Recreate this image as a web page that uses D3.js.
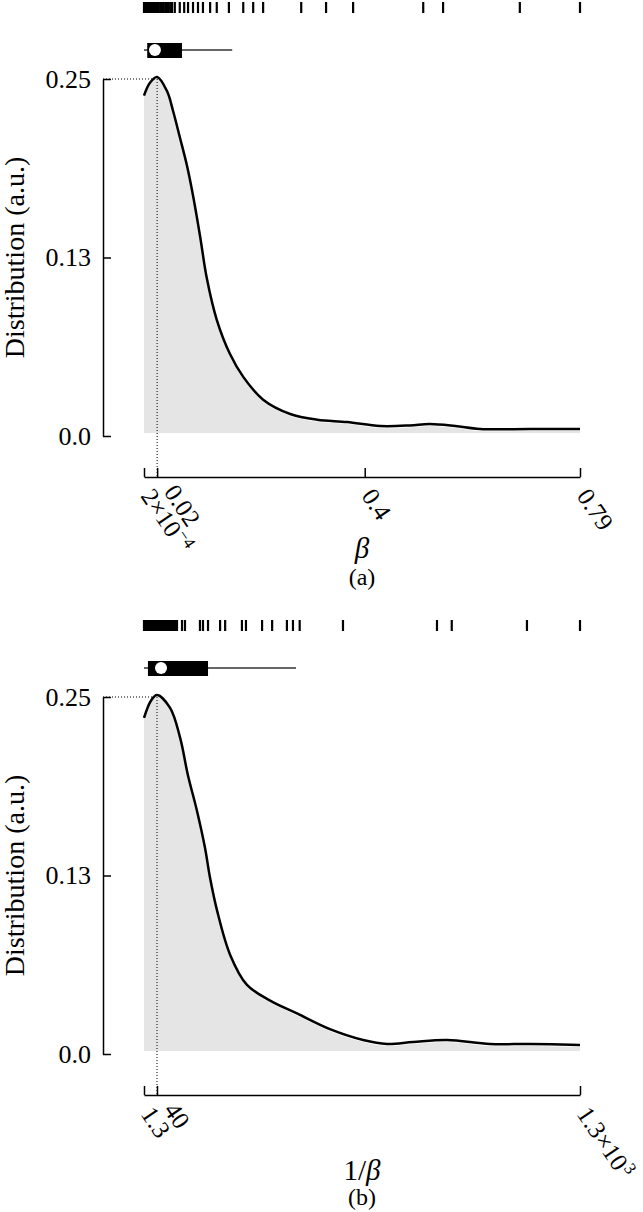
<!DOCTYPE html>
<html>
<head>
<meta charset="utf-8">
<script src="https://cdn.jsdelivr.net/npm/d3@7"></script>
<style>
  body { margin: 0; background: #fff; }
  svg { display: block; font-family: "Liberation Serif", "DejaVu Serif", serif; }
</style>
</head>
<body>
<div id="chart"></div>
<script>
// ---- data ----
// panel (a): beta
let rugBeta = [0.0002, 0.002, 0.004, 0.006, 0.008, 0.01, 0.012, 0.014, 0.016, 0.018, 0.02, 0.022,
    0.024, 0.027, 0.03, 0.033, 0.036, 0.039, 0.042, 0.045, 0.048, 0.051, 0.056, 0.065, 0.073,
    0.08, 0.089, 0.098, 0.107, 0.12, 0.132, 0.154, 0.18, 0.198, 0.216, 0.285, 0.33, 0.379,
    0.506, 0.542, 0.681, 0.79];
let boxBeta = [0.0002, 0.006, 0.02, 0.069, 0.16];   // min, q1, median, q3, whisker
let densBetaX = [0.0002, 0.011, 0.024, 0.042, 0.053, 0.065, 0.078, 0.089, 0.102, 0.114, 0.132,
    0.156, 0.18, 0.216, 0.265, 0.314, 0.368, 0.428, 0.482, 0.518, 0.564, 0.609, 0.7, 0.79];
let densBetaY = [0.237, 0.246, 0.25, 0.24, 0.226, 0.208, 0.188, 0.167, 0.138, 0.109, 0.08,
    0.056, 0.04, 0.024, 0.014, 0.01, 0.0084, 0.0056, 0.006, 0.007, 0.0056, 0.0035, 0.0035, 0.0035];
let modeBeta = 0.024;
let xTicksBeta = [0.0002, 0.024, 0.4, 0.79];
let xLabelsBeta = [["2×10", "−4"], ["0.02"], ["0.4"], ["0.79"]];

// panel (b): 1/beta
let rugInv = [1.3, 4.3, 10.2, 16.2, 22.1, 28.1, 34.1, 40, 46, 52, 57.9, 63.9, 69.8, 75.8, 81.7,
    87.7, 93.6, 99.6, 114.5, 123.4, 168, 177, 192, 228, 243, 293, 305, 353, 383, 427, 445, 465,
    594, 874, 918, 1142, 1300];
let boxInv = [1.3, 13, 52, 192, 454];
let densInvX = [1.3, 22, 40, 79, 109, 132, 159, 183, 198, 219, 258, 308, 377, 457, 555, 654,
    725, 803, 904, 1032, 1151, 1300];
let densInvY = [0.234, 0.246, 0.25, 0.241, 0.22, 0.194, 0.169, 0.143, 0.122, 0.099, 0.068,
    0.047, 0.036, 0.027, 0.016, 0.0084, 0.0056, 0.007, 0.0084, 0.0056, 0.0056, 0.0049];
let modeInv = 40;
let xTicksInv = [1.3, 40, 1300];
let xLabelsInv = [["1.3"], ["40"], ["1.3×10", "3"]];

let yTicks = [0, 0.125, 0.25];
let yLabels = ["0.0", "0.13", "0.25"];

// ---- layout ----
let width = 643, height = 1212;
let plotLeft = 144, plotRight = 580;

let svg = d3.select("#chart").append("svg")
    .attr("width", width)
    .attr("height", height);

function drawPanel(top, p) {
    let g = svg.append("g").attr("transform", "translate(0," + top + ")");

    let x = d3.scaleLinear().domain([p.xTicks[0], p.xTicks[p.xTicks.length - 1]]).range([plotLeft, plotRight]);
    let y = d3.scaleLinear().domain([0, 0.25]).range([436, 79]);

    // rug
    g.append("g").selectAll("line")
        .data(p.rug)
        .join("line")
        .attr("x1", d => x(d)).attr("x2", d => x(d))
        .attr("y1", 2).attr("y2", 13)
        .attr("stroke", "#000")
        .attr("stroke-width", 2.2);

    // boxplot
    let b = p.box;
    g.append("line")
        .attr("x1", x(b[0])).attr("x2", x(b[4]))
        .attr("y1", 50).attr("y2", 50)
        .attr("stroke", "#333")
        .attr("stroke-width", 1.5);
    g.append("rect")
        .attr("x", x(b[1])).attr("width", x(b[3]) - x(b[1]))
        .attr("y", 43).attr("height", 15)
        .attr("fill", "#000");
    g.append("circle")
        .attr("cx", x(b[2])).attr("cy", 50)
        .attr("r", 6)
        .attr("fill", "#fff");

    // density
    let pts = p.densX.map((d, i) => [d, p.densY[i]]);
    let curve = d3.curveCatmullRom.alpha(0.5);
    g.append("path")
        .datum(pts)
        .attr("fill", "#e5e5e5")
        .attr("d", d3.area().x(d => x(d[0])).y0(y(0) - 3).y1(d => y(d[1])).curve(curve));
    g.append("path")
        .datum(pts)
        .attr("fill", "none")
        .attr("stroke", "#000")
        .attr("stroke-width", 2.5)
        .attr("d", d3.line().x(d => x(d[0])).y(d => y(d[1]) - 2).curve(curve));

    // mode guide lines
    let peak = d3.max(p.densY);
    g.append("line")
        .attr("x1", 103).attr("x2", x(p.mode))
        .attr("y1", y(peak)).attr("y2", y(peak))
        .attr("stroke", "#000").attr("stroke-width", 1)
        .attr("stroke-dasharray", "1,2");
    g.append("line")
        .attr("x1", x(p.mode)).attr("x2", x(p.mode))
        .attr("y1", y(peak)).attr("y2", 477)
        .attr("stroke", "#000").attr("stroke-width", 1)
        .attr("stroke-dasharray", "1,2");

    // y axis
    let yAxis = g.append("g")
        .attr("transform", "translate(103,0)")
        .call(d3.axisLeft(y).tickValues(yTicks).tickFormat((d, i) => yLabels[i])
            .tickSizeInner(-8).tickSizeOuter(0).tickPadding(12));
    yAxis.selectAll("path, line").attr("stroke", "#000").attr("stroke-width", 1.5);
    yAxis.selectAll("text")
        .attr("font-family", "Liberation Serif")
        .attr("font-size", 26)
        .attr("fill", "#000");

    g.append("text")
        .attr("transform", "translate(24," + y(0.125) + ") rotate(-90)")
        .attr("text-anchor", "middle")
        .attr("font-size", 28)
        .text("Distribution (a.u.)");

    // x axis
    let xAxis = g.append("g")
        .attr("transform", "translate(0,477)")
        .call(d3.axisBottom(x).tickValues(p.xTicks).tickFormat("")
            .tickSizeInner(-9).tickSizeOuter(0));
    xAxis.selectAll("path, line").attr("stroke", "#000").attr("stroke-width", 1.5);

    let labels = g.append("g").selectAll("text")
        .data(p.xTicks)
        .join("text")
        .attr("transform", (d, i) => {
            let dx = d === p.mode ? 6 : -4;
            let dy = d === p.mode ? -4 : 0;
            return "translate(" + (x(d) + dx) + "," + (496 + dy) + ") rotate(56)";
        })
        .attr("font-size", 25);
    labels.each(function(d, i) {
        let t = d3.select(this);
        let parts = p.xLabels[i];
        t.append("tspan").text(parts[0]);
        if (parts[1]) t.append("tspan").attr("dx", 1).attr("dy", -9).attr("font-size", 17).text(parts[1]);
    });

    // axis title + panel tag
    let title = g.append("text")
        .attr("x", (plotLeft + plotRight) / 2)
        .attr("y", p.titleY)
        .attr("text-anchor", "middle")
        .attr("font-size", 29);
    if (p.inverse) title.append("tspan").text("1/");
    title.append("tspan").attr("font-style", "italic").text("β");

    g.append("text")
        .attr("x", (plotLeft + plotRight) / 2)
        .attr("y", p.tagY)
        .attr("text-anchor", "middle")
        .attr("font-size", 24)
        .text(p.tag);
}

drawPanel(0, {rug: rugBeta, box: boxBeta, densX: densBetaX, densY: densBetaY, mode: modeBeta,
    xTicks: xTicksBeta, xLabels: xLabelsBeta, inverse: false, titleY: 558, tagY: 585, tag: "(a)"});
drawPanel(618, {rug: rugInv, box: boxInv, densX: densInvX, densY: densInvY, mode: modeInv,
    xTicks: xTicksInv, xLabels: xLabelsInv, inverse: true, titleY: 562, tagY: 587, tag: "(b)"});
</script>
</body>
</html>
